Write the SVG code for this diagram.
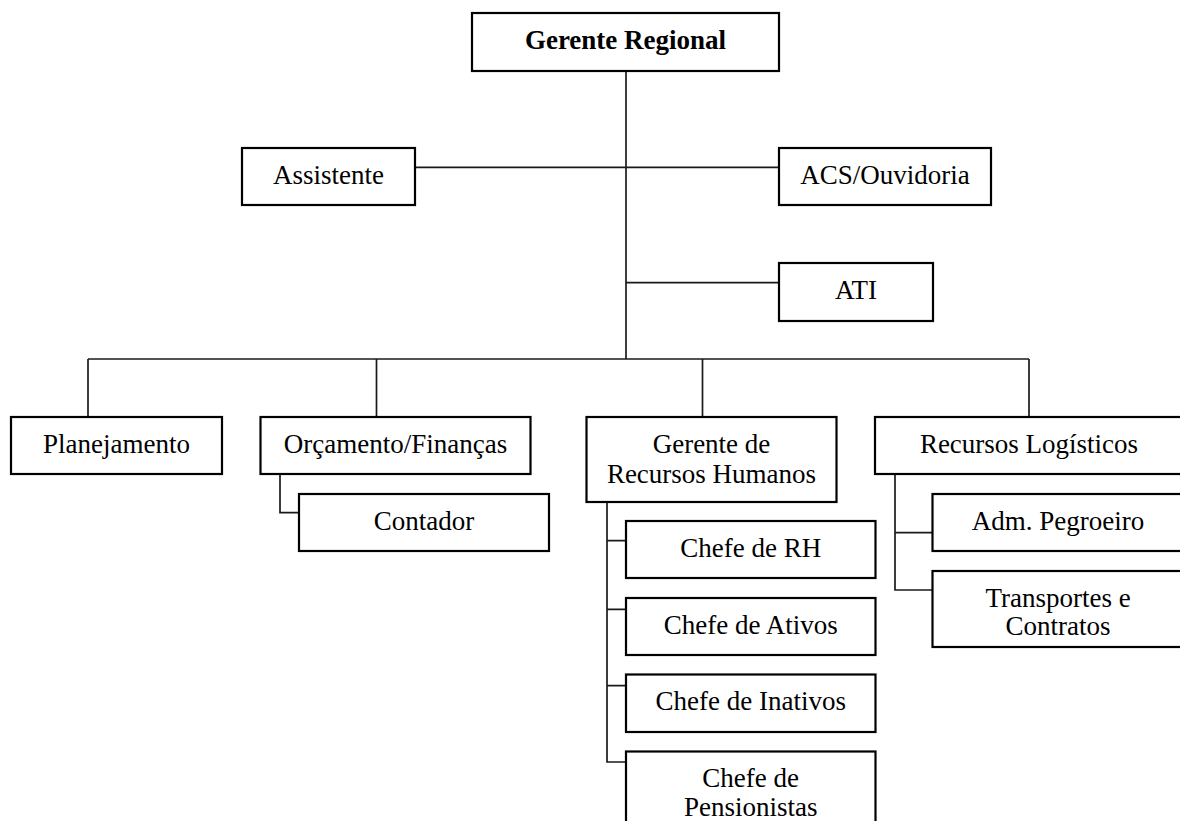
<svg xmlns="http://www.w3.org/2000/svg" width="1180" height="821" viewBox="0 0 1180 821">
<style>
.box{fill:#fff;stroke:#000;stroke-width:2.2}
.t{font-family:"Liberation Serif","Times New Roman",serif;font-size:27px;fill:#000;text-anchor:middle}
.b{font-weight:bold}
.c{fill:none;stroke:#1a1a1a;stroke-width:1.7}
</style>
<rect width="1180" height="821" fill="#fff"/>
<g id="connectors">
<path class="c" d="M626 71V359"/>
<path class="c" d="M415 167.3H779"/>
<path class="c" d="M626 282.7H779"/>
<path class="c" d="M88 359H1029"/>
<path class="c" d="M88 359V417M376.5 359V417M702.5 359V417M1029 359V417"/>
<path class="c" d="M280 474V512.7H299"/>
<path class="c" d="M607 502V762H626M607 540.7H626M607 609.3H626M607 685.7H626"/>
<path class="c" d="M895 474V590H932.5M895 532.7H932.5"/>
</g>
<g id="gerente-regional"><rect class="box" x="472" y="13" width="307" height="58"/><text class="t b" x="625.5" y="49">Gerente Regional</text></g>
<g id="assistente"><rect class="box" x="242" y="148" width="173" height="57"/><text class="t" x="328.5" y="184">Assistente</text></g>
<g id="acs-ouvidoria"><rect class="box" x="779" y="148" width="212" height="57"/><text class="t" x="885" y="184">ACS/Ouvidoria</text></g>
<g id="ati"><rect class="box" x="779" y="263" width="154" height="58"/><text class="t" x="856" y="299">ATI</text></g>
<g id="planejamento"><rect class="box" x="11" y="417" width="211" height="57"/><text class="t" x="116.5" y="453">Planejamento</text></g>
<g id="orcamento-financas"><rect class="box" x="260.5" y="417" width="270" height="57"/><text class="t" x="395.5" y="453">Orçamento/Finanças</text></g>
<g id="gerente-rh"><rect class="box" x="586.5" y="417" width="250" height="85"/><text class="t" x="711.5" y="453">Gerente de</text><text class="t" x="711.5" y="483">Recursos Humanos</text></g>
<g id="recursos-logisticos"><rect class="box" x="875" y="417" width="310" height="57"/><text class="t" x="1029" y="453">Recursos Logísticos</text></g>
<g id="contador"><rect class="box" x="299" y="494" width="250" height="57"/><text class="t" x="424" y="530">Contador</text></g>
<g id="chefe-rh"><rect class="box" x="626" y="521" width="249.5" height="57"/><text class="t" x="750.7" y="557">Chefe de RH</text></g>
<g id="chefe-ativos"><rect class="box" x="626" y="598" width="249.5" height="57"/><text class="t" x="750.7" y="634">Chefe de Ativos</text></g>
<g id="chefe-inativos"><rect class="box" x="626" y="674.5" width="249.5" height="57.5"/><text class="t" x="750.7" y="710">Chefe de Inativos</text></g>
<g id="chefe-pensionistas"><rect class="box" x="626" y="751.5" width="249.5" height="80"/><text class="t" x="750.7" y="787">Chefe de</text><text class="t" x="750.7" y="816">Pensionistas</text></g>
<g id="adm-pegroeiro"><rect class="box" x="932.5" y="494" width="251" height="57"/><text class="t" x="1058" y="530">Adm. Pegroeiro</text></g>
<g id="transportes-contratos"><rect class="box" x="932.5" y="571" width="251" height="76"/><text class="t" x="1058" y="607">Transportes e</text><text class="t" x="1058" y="635">Contratos</text></g>
</svg>
